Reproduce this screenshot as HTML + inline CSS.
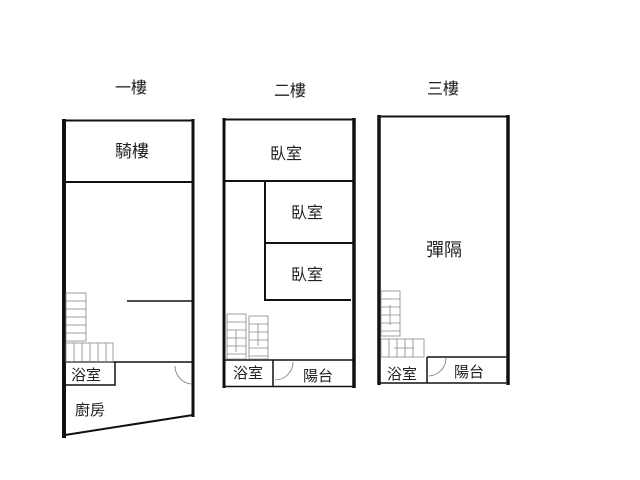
<!DOCTYPE html>
<html><head><meta charset="utf-8"><style>
html,body{margin:0;padding:0;background:#fff;width:640px;height:480px;overflow:hidden}
svg text{font-family:"Liberation Sans","Noto Sans CJK TC",sans-serif;fill:#222}
</style></head><body>
<svg width="640" height="480" viewBox="0 0 640 480" xmlns="http://www.w3.org/2000/svg">
<g font-size="16" text-anchor="middle">
<text x="131" y="93">一樓</text>
<text x="290" y="96">二樓</text>
<text x="443" y="94">三樓</text>
</g>
<g stroke="#111" fill="none">
<line x1="64" y1="119" x2="64" y2="438" stroke-width="4"/>
<line x1="193" y1="119" x2="193" y2="417" stroke-width="3"/>
<line x1="64" y1="120.5" x2="193" y2="120.5" stroke-width="2"/>
<line x1="65" y1="182" x2="192" y2="182" stroke-width="2"/>
<line x1="127" y1="301" x2="192" y2="301" stroke-width="1.5"/>
<line x1="65" y1="362" x2="193" y2="362" stroke-width="1.5"/>
<polyline points="65,385 115,385 115,362" stroke-width="1.5"/>
<line x1="65" y1="435" x2="193" y2="415" stroke-width="2"/>
<path d="M175,366 A18,18 0 0 0 192,384" stroke-width="0.8" stroke="#777"/>
<line x1="224" y1="118" x2="224" y2="388" stroke-width="3"/>
<line x1="354" y1="118" x2="354" y2="388" stroke-width="3.5"/>
<line x1="224" y1="119.5" x2="354" y2="119.5" stroke-width="2"/>
<line x1="225" y1="181" x2="353" y2="181" stroke-width="2"/>
<polyline points="265,181 265,300 351,300" stroke-width="2"/>
<line x1="266" y1="243" x2="353" y2="243" stroke-width="2"/>
<line x1="225" y1="360" x2="353" y2="360" stroke-width="1.5"/>
<line x1="225" y1="386.5" x2="353" y2="386.5" stroke-width="1.5"/>
<line x1="273" y1="360" x2="273" y2="387" stroke-width="1.5"/>
<path d="M293,362 A18,18 0 0 1 275,380" stroke-width="0.8" stroke="#777"/>
<line x1="379" y1="115" x2="379" y2="385" stroke-width="3.5"/>
<line x1="508" y1="115" x2="508" y2="385" stroke-width="3.5"/>
<line x1="379" y1="116.5" x2="508" y2="116.5" stroke-width="2"/>
<line x1="427" y1="357" x2="506" y2="357" stroke-width="1.5"/>
<line x1="380" y1="383" x2="506" y2="383" stroke-width="1.5"/>
<line x1="427" y1="357" x2="427" y2="383" stroke-width="1.5"/>
<path d="M446,358 A18,18 0 0 1 429,376" stroke-width="0.8" stroke="#777"/>
</g>
<g stroke="#888" stroke-width="0.8" fill="none">
<rect x="66" y="293" width="20" height="48"/>
<path d="M66,301H86M66,309H86M66,317H86M66,325H86M66,333H86"/>
<rect x="66" y="343" width="47" height="19"/>
<path d="M74,343V362M82,343V362M90,343V362M98,343V362M106,343V362"/>
<rect x="227" y="314" width="19" height="45"/>
<path d="M227,322H246M227,330H246M227,338H246M227,346H246M227,354H246M236,330V352"/>
<rect x="249" y="316" width="19" height="43"/>
<path d="M249,324H268M249,332H268M249,340H268M249,348H268M249,356H268M258,324V346"/>
<rect x="381" y="291" width="19" height="45"/>
<path d="M381,299H400M381,307H400M381,315H400M381,323H400M381,331H400M390,305V325"/>
<rect x="381" y="339" width="43" height="18"/>
<path d="M389,339V357M397,339V357M405,339V357M413,339V357M394,348H414"/>
</g>
<g font-size="16" text-anchor="middle">
<text x="132" y="157" font-size="17">騎樓</text>
<text x="86" y="380" font-size="15">浴室</text>
<text x="90" y="415" font-size="15">廚房</text>
<text x="286" y="159">臥室</text>
<text x="307" y="218">臥室</text>
<text x="307" y="280">臥室</text>
<text x="248" y="378" font-size="15">浴室</text>
<text x="318" y="381" font-size="15">陽台</text>
<text x="444" y="256" font-size="18">彈隔</text>
<text x="402" y="379" font-size="15">浴室</text>
<text x="469" y="377" font-size="15">陽台</text>
</g>
</svg>
</body></html>
